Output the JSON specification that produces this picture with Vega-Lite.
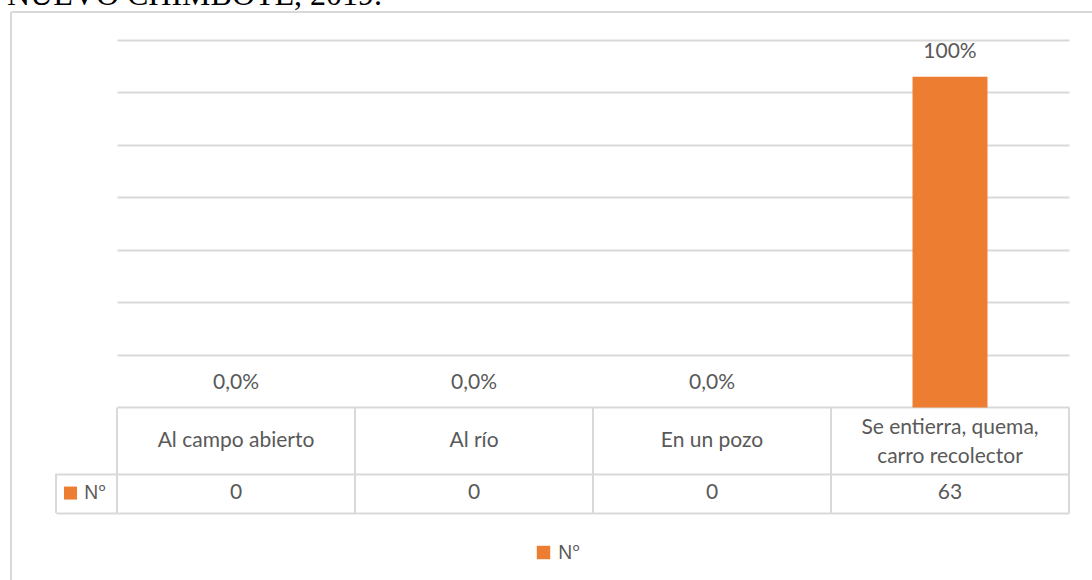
{
  "$schema": "https://vega.github.io/schema/vega-lite/v6.json",
  "width": 952,
  "height": 473,
  "autosize": {"type": "none"},
  "padding": {"left": 117, "top": 40, "right": 23, "bottom": 67},
  "background": "white",
  "config": {
    "view": {"stroke": null},
    "font": "Lato",
    "text": {"font": "Lato", "fontSize": 21, "fill": "#595959"}
  },
  "data": {
    "values": [
      {"cat": "Al campo abierto", "n": 0, "pct": "0,0%", "serie": "Nº"},
      {"cat": "Al río", "n": 0, "pct": "0,0%", "serie": "Nº"},
      {"cat": "En un pozo", "n": 0, "pct": "0,0%", "serie": "Nº"},
      {"cat": "Se entierra, quema,\ncarro recolector", "n": 63, "pct": "100%", "serie": "Nº"}
    ]
  },
  "layer": [
    {
      "mark": {"type": "bar", "width": {"band": 0.315}},
      "encoding": {
        "x": {
          "field": "cat", "type": "nominal", "sort": null,
          "scale": {"paddingInner": 0, "paddingOuter": 0},
          "axis": null
        },
        "y": {
          "field": "n", "type": "quantitative",
          "scale": {"domain": [-20.1, 70], "nice": false, "zero": false},
          "axis": {
            "title": null,
            "values": [-20.1, -12.6, 0, 10, 20, 30, 40, 50, 60, 70],
            "grid": true,
            "gridColor": "#d9d9d9",
            "gridWidth": 2,
            "domain": false,
            "labels": false,
            "ticks": true,
            "tickSize": 61,
            "tickWidth": 2,
            "tickColor": "#d9d9d9",
            "tickOpacity": {"expr": "datum.value < -1 ? 1 : 0"}
          }
        },
        "color": {
          "field": "serie", "type": "nominal",
          "scale": {"domain": ["Nº"], "range": ["#ED7D31"]},
          "legend": {
            "orient": "none",
            "legendX": 417,
            "legendY": 503,
            "title": null,
            "padding": 0,
            "symbolType": "square",
            "symbolSize": 180,
            "symbolStrokeWidth": 0,
            "labelFont": "Noto Sans",
            "labelFontSize": 19,
            "labelColor": "#595959",
            "labelOffset": 5
          }
        }
      }
    },
    {
      "mark": {"type": "text", "baseline": "middle", "dy": -24.5},
      "encoding": {
        "x": {"field": "cat", "type": "nominal", "sort": null},
        "y": {"field": "n", "type": "quantitative"},
        "text": {"field": "pct"}
      }
    },
    {
      "transform": [{"filter": "indexof(datum.cat, '\\n') < 0"}],
      "mark": {"type": "text", "baseline": "middle"},
      "encoding": {
        "x": {"field": "cat", "type": "nominal", "sort": null},
        "y": {"datum": -6.38},
        "text": {"field": "cat"}
      }
    },
    {
      "transform": [{"filter": "indexof(datum.cat, '\\n') >= 0"}],
      "mark": {"type": "text", "baseline": "middle", "lineBreak": "\n", "lineHeight": 29, "dy": -12.5},
      "encoding": {
        "x": {"field": "cat", "type": "nominal", "sort": null},
        "y": {"datum": -6.38},
        "text": {"field": "cat"}
      }
    },
    {
      "mark": {"type": "text", "baseline": "middle"},
      "encoding": {
        "x": {"field": "cat", "type": "nominal", "sort": null},
        "y": {"datum": -16.3},
        "text": {"field": "n"}
      }
    },
    {
      "mark": {"type": "rule", "color": "#d9d9d9", "strokeWidth": 2},
      "encoding": {
        "x": {"field": "cat", "type": "nominal", "sort": null, "bandPosition": 0},
        "y": {"datum": -20.1},
        "y2": {"datum": 0}
      }
    },
    {
      "mark": {"type": "rule", "color": "#d9d9d9", "strokeWidth": 2},
      "encoding": {
        "x": {"field": "cat", "type": "nominal", "sort": null, "bandPosition": 1},
        "y": {"datum": -20.1},
        "y2": {"datum": 0}
      }
    },
    {
      "data": {"values": [{"serie": "Nº", "titulo": "NUEVO CHIMBOTE, 2019."}]},
      "layer": [
        {
          "mark": {"type": "rule", "color": "#d9d9d9", "strokeWidth": 2, "xOffset": -180},
          "encoding": {
            "x": {"datum": "Al campo abierto", "type": "nominal"},
            "y": {"datum": -20.1},
            "y2": {"datum": -12.6}
          }
        },
        {
          "mark": {"type": "point", "shape": "square", "filled": true, "size": 169, "color": "#ED7D31", "opacity": 1, "xOffset": -165.5},
          "encoding": {
            "x": {"datum": "Al campo abierto", "type": "nominal"},
            "y": {"datum": -16.3}
          }
        },
        {
          "mark": {"type": "text", "align": "left", "baseline": "middle", "font": "Noto Sans", "fontSize": 19, "xOffset": -152},
          "encoding": {
            "x": {"datum": "Al campo abierto", "type": "nominal"},
            "y": {"datum": -16.3},
            "text": {"field": "serie"}
          }
        },
        {
          "mark": {"type": "rule", "color": "#d9d9d9", "strokeWidth": 2, "xOffset": -225, "yOffset": -28, "y2Offset": 120},
          "encoding": {
            "x": {"datum": "Al campo abierto", "type": "nominal"},
            "y": {"datum": 70},
            "y2": {"datum": -20.1}
          }
        },
        {
          "mark": {"type": "rule", "color": "#d9d9d9", "strokeWidth": 2, "xOffset": -225, "x2Offset": 200, "yOffset": -28},
          "encoding": {
            "x": {"datum": "Al campo abierto", "type": "nominal"},
            "x2": {"datum": "Se entierra, quema,\ncarro recolector"},
            "y": {"datum": 70}
          }
        },
        {
          "mark": {"type": "text", "align": "left", "baseline": "alphabetic", "font": "Liberation Serif", "fontSize": 32, "fill": "black", "xOffset": -229, "yOffset": -35},
          "encoding": {
            "x": {"datum": "Al campo abierto", "type": "nominal"},
            "y": {"datum": 70},
            "text": {"field": "titulo"}
          }
        }
      ]
    }
  ]
}
